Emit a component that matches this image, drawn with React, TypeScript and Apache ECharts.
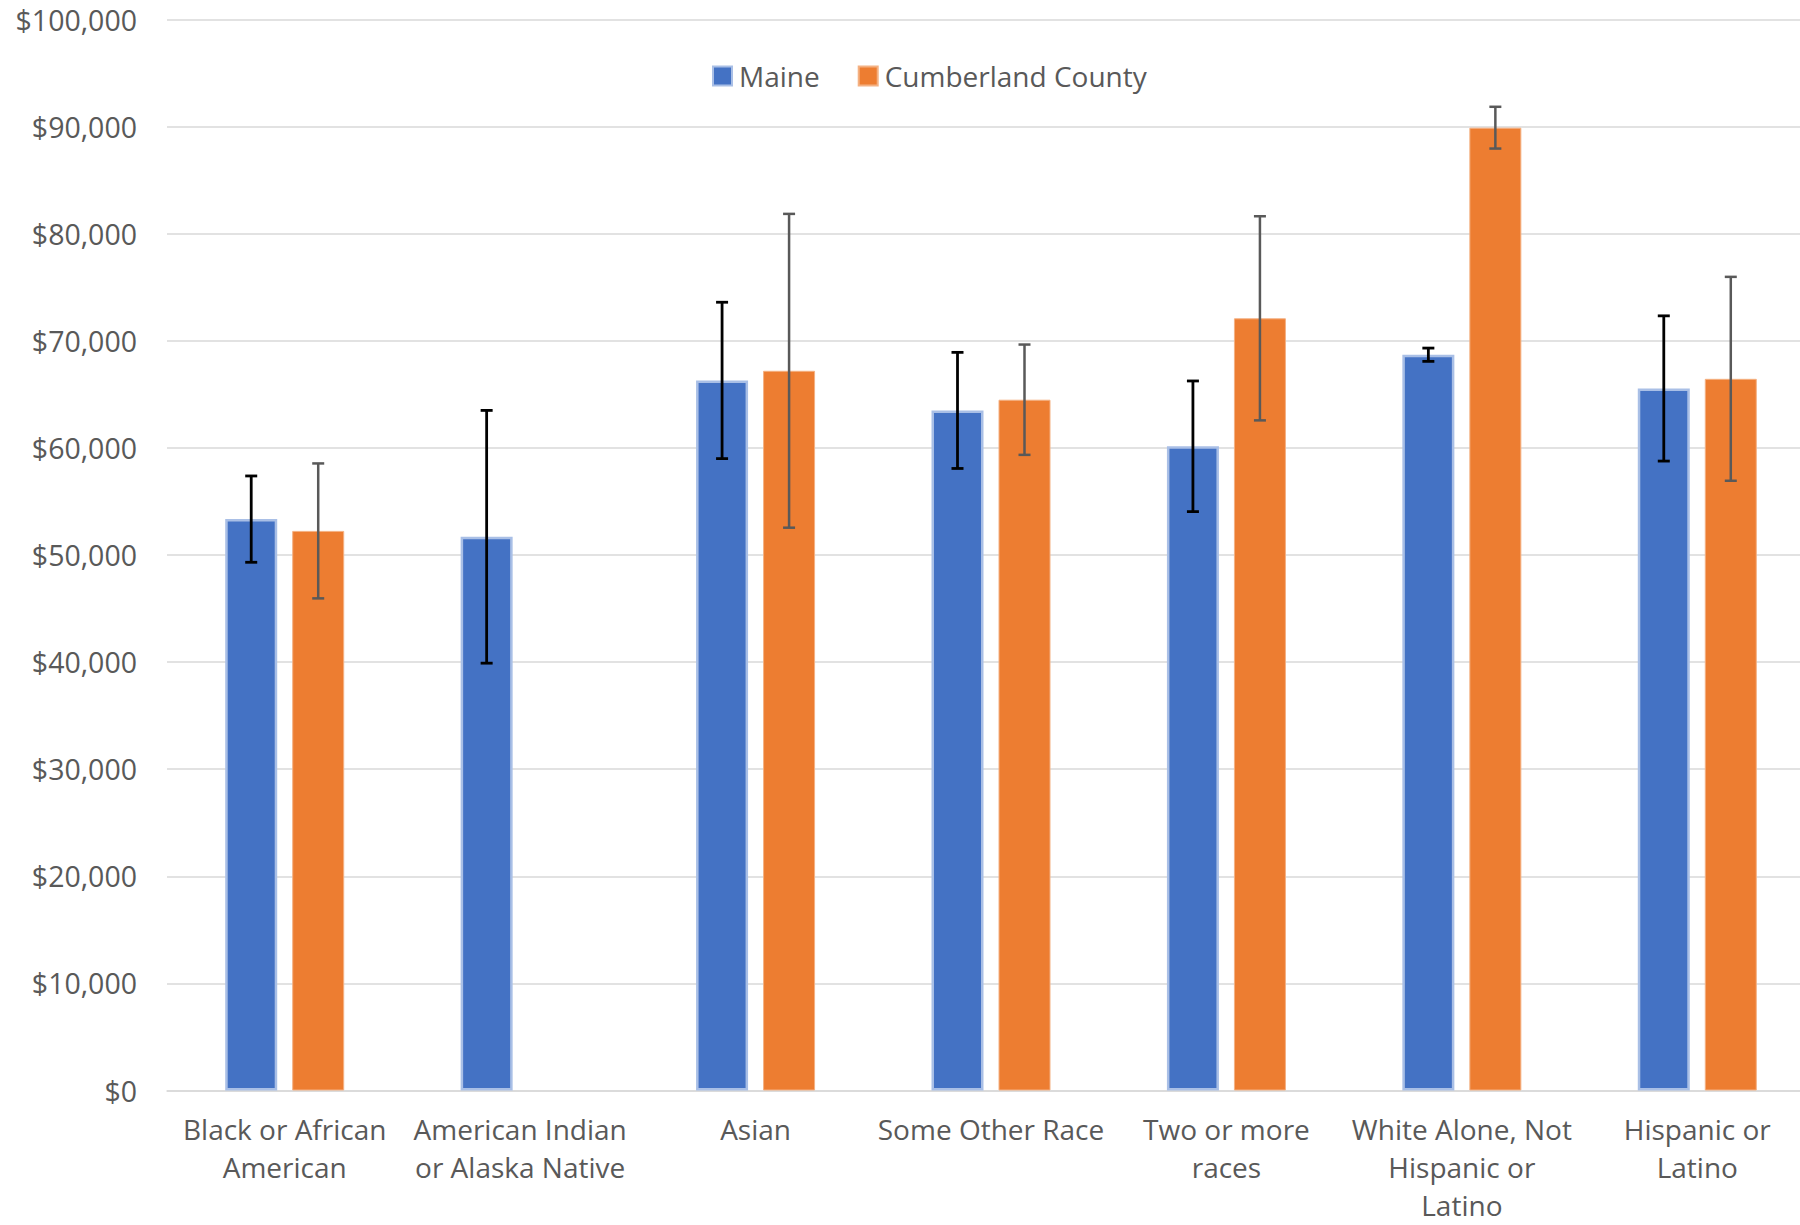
import React, { useEffect, useRef } from "react";
import * as echarts from "echarts";

const categories = [
  "Black or African\nAmerican",
  "American Indian\nor Alaska Native",
  "Asian",
  "Some Other Race",
  "Two or more\nraces",
  "White Alone, Not\nHispanic or\nLatino",
  "Hispanic or\nLatino",
];
const maineValues = [53350, 51700, 66300, 63500, 60150, 68700, 65550];
const maineErrors = [4030, 11800, 7300, 5420, 6100, 620, 6780];
const cumberlandValues: (number | null)[] = [52250, null, 67200, 64500, 72100, 89900, 66450];
const cumberlandErrors: (number | null)[] = [6300, null, 14650, 5150, 9530, 1950, 9520];
const yTicks = { min: 0, max: 100000, interval: 10000 };

const FONT = "'Open Sans', 'Noto Sans', sans-serif";
const TEXT = "#595959";
const BAR_W = 52;
const BAR_GAP = 15;

function errorData(vals: (number | null)[], errs: (number | null)[]) {
  const out: number[][] = [];
  vals.forEach((v, i) => {
    const e = errs[i];
    if (v != null && e != null) out.push([i, v - e, v + e]);
  });
  return out;
}

function errorSeries(name: string, data: number[][], offset: number, color: string, lw: number) {
  return {
    type: "custom",
    name,
    z: 10,
    data,
    encode: { x: 0, y: [1, 2] },
    renderItem: (params: any, api: any) => {
      const x = api.value(0);
      const lo = api.coord([x, api.value(1)]);
      const hi = api.coord([x, api.value(2)]);
      const cx = lo[0] + offset;
      const cw = 6;
      const style = { stroke: color, lineWidth: lw };
      return {
        type: "group",
        children: [
          { type: "line", shape: { x1: cx, y1: hi[1], x2: cx, y2: lo[1] }, style },
          { type: "line", shape: { x1: cx - cw, y1: hi[1], x2: cx + cw, y2: hi[1] }, style },
          { type: "line", shape: { x1: cx - cw, y1: lo[1], x2: cx + cw, y2: lo[1] }, style },
        ],
      };
    },
  };
}

export default function App() {
  const ref = useRef<HTMLDivElement>(null);
  useEffect(() => {
    if (!ref.current) return;
    document.body.style.overflow = "hidden";
    const chart = echarts.init(ref.current, undefined, { renderer: "svg" });
    const off = (BAR_W + BAR_GAP) / 2;
    chart.setOption({
      animation: false,
      backgroundColor: "#ffffff",
      textStyle: { fontFamily: FONT },
      grid: {
        left: 167,
        top: 19.5,
        width: 1648,
        height: 1071,
        containLabel: false,
        outerBoundsMode: "none",
      },
      legend: {
        data: ["Maine", "Cumberland County"],
        left: 707,
        top: 57,
        icon: "rect",
        itemWidth: 19,
        itemHeight: 19,
        itemGap: 38,
        textStyle: { fontFamily: FONT, fontSize: 28, color: TEXT, padding: [0, 0, 0, 2] },
      },
      xAxis: {
        type: "category",
        data: categories,
        axisLine: { show: true, lineStyle: { color: "#D9D9D9", width: 1.5 } },
        axisTick: { show: false },
        axisLabel: {
          interval: 0,
          margin: 19,
          fontFamily: FONT,
          fontSize: 28,
          lineHeight: 38,
          color: TEXT,
        },
      },
      yAxis: {
        type: "value",
        min: yTicks.min,
        max: yTicks.max,
        interval: yTicks.interval,
        axisLine: { show: false },
        axisTick: { show: false },
        splitLine: { lineStyle: { color: "#D9D9D9", width: 1.5 } },
        axisLabel: {
          margin: 30,
          fontFamily: FONT,
          fontSize: 28.5,
          color: TEXT,
          formatter: (v: number) => "$" + v.toLocaleString("en-US"),
        },
      },
      series: [
        {
          type: "bar",
          name: "Maine",
          data: maineValues,
          barWidth: BAR_W,
          barGap: (BAR_GAP / BAR_W) * 100 + "%",
          itemStyle: { color: "#4472C4", borderColor: "#A9BFE6", borderWidth: 2.5 },
        },
        {
          type: "bar",
          name: "Cumberland County",
          data: cumberlandValues,
          barWidth: BAR_W,
          itemStyle: { color: "#ED7D31", borderColor: "#F4B183", borderWidth: 1 },
        },
        errorSeries("Maine error", errorData(maineValues, maineErrors), -off, "#000000", 2.8),
        errorSeries("Cumberland error", errorData(cumberlandValues, cumberlandErrors), off, "#595959", 2.5),
      ],
    });
    return () => chart.dispose();
  }, []);
  return (
    <div
      ref={ref}
      style={{ position: "absolute", left: 0, top: 0, width: 1800, height: 1225 }}
    />
  );
}
